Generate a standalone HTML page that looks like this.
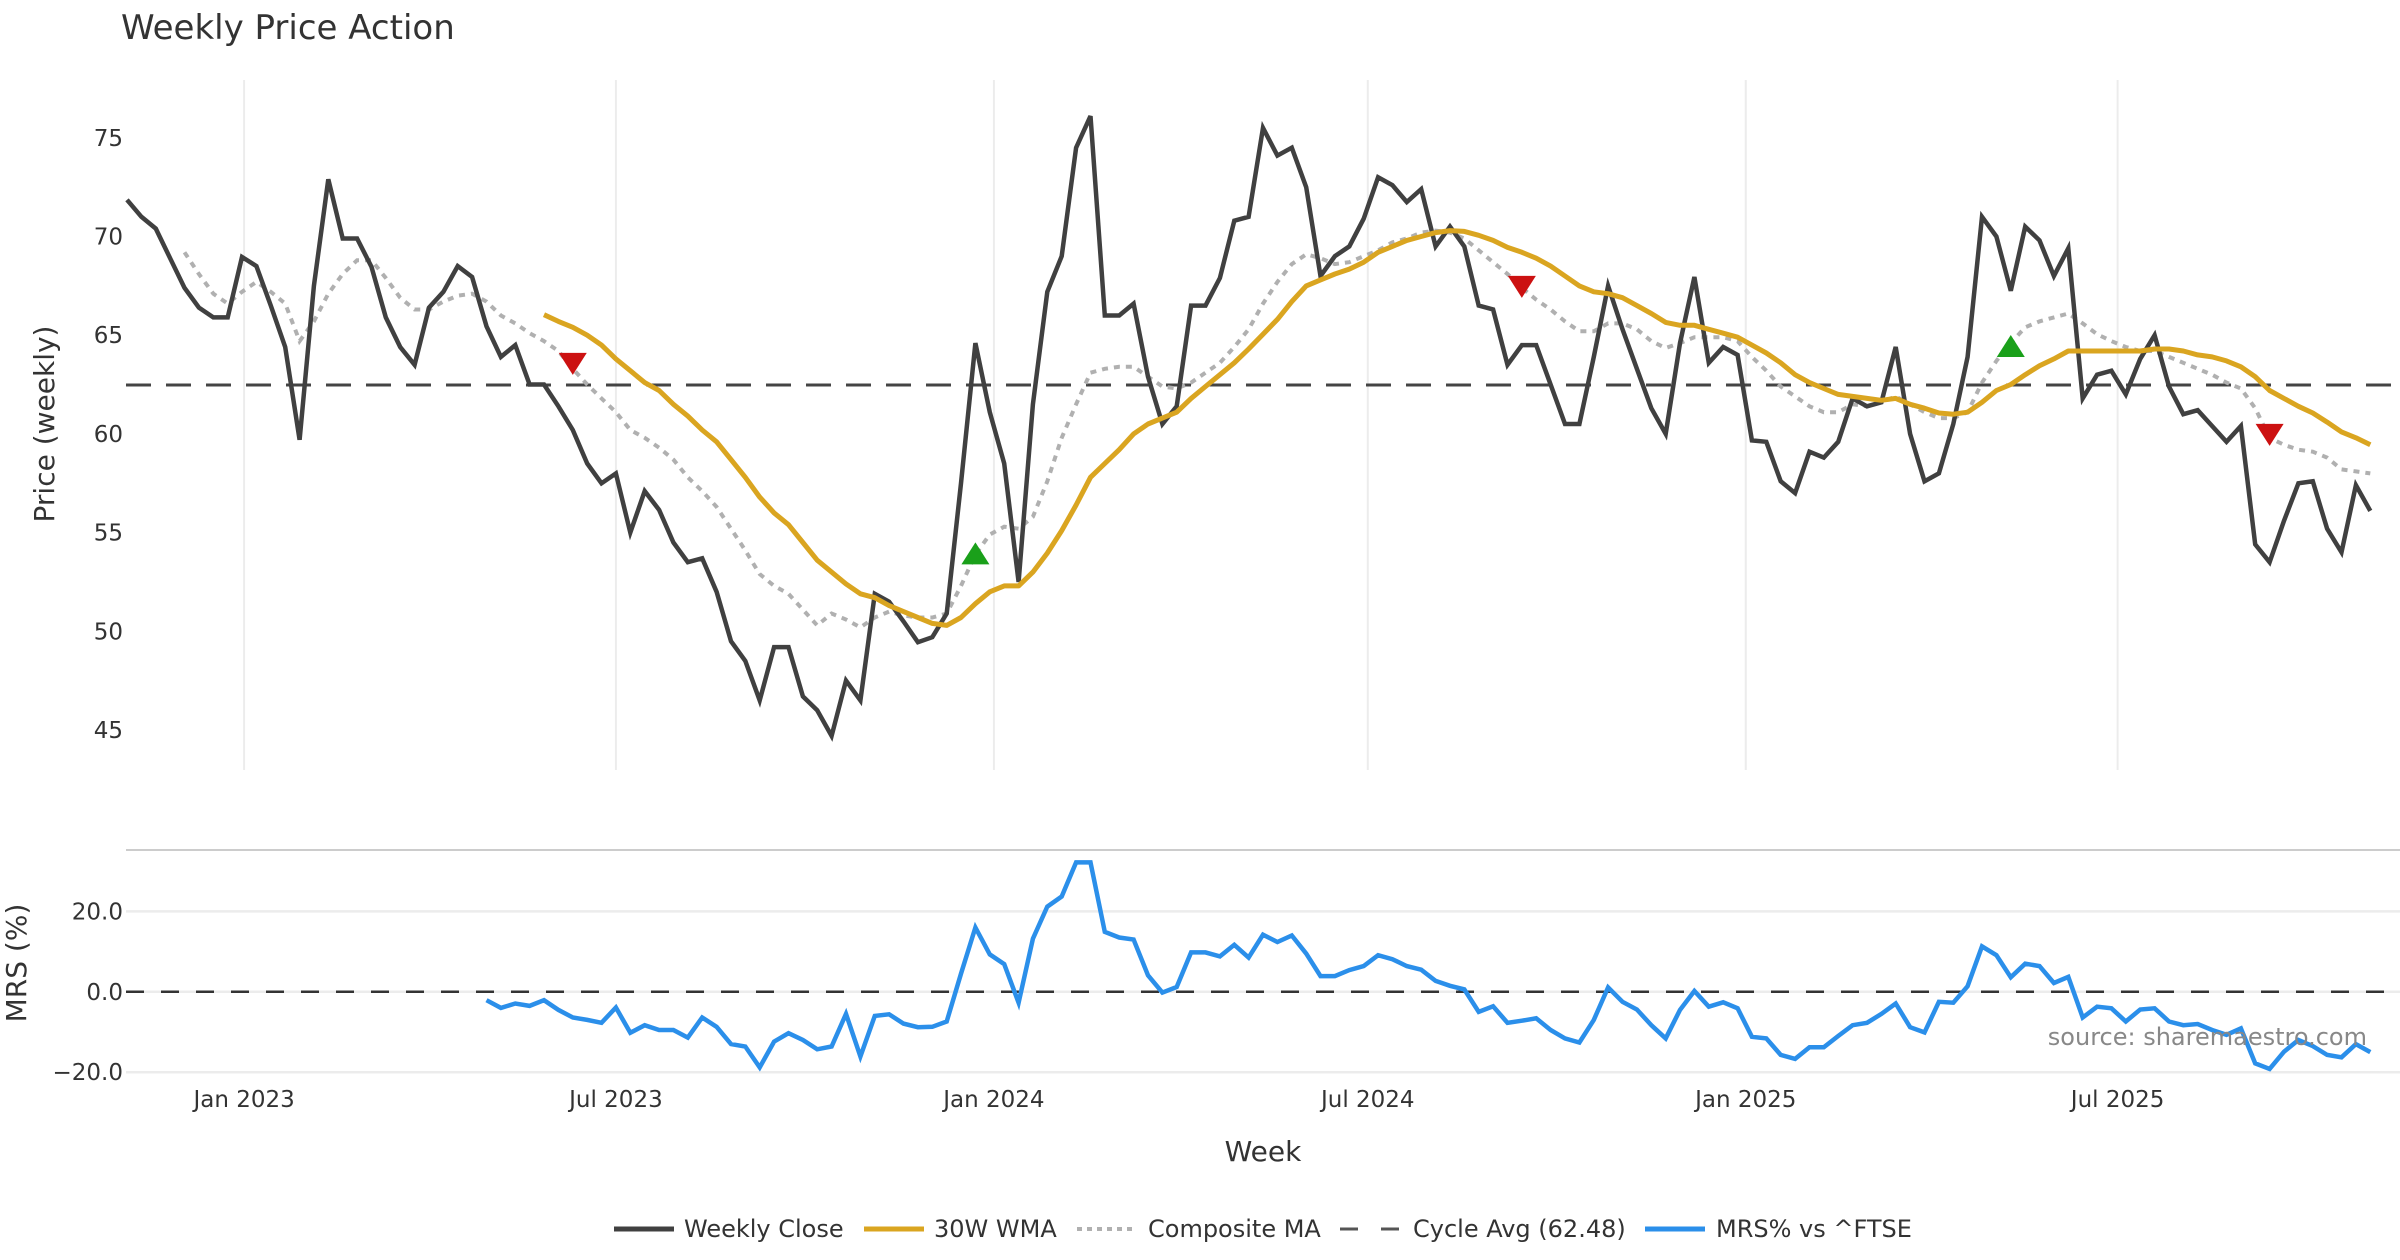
<!DOCTYPE html>
<html><head><meta charset="utf-8"><title>Weekly Price Action</title>
<style>
html,body{margin:0;padding:0;background:#fff;}
svg{display:block;font-family:"DejaVu Sans","Liberation Sans",sans-serif;}
</style></head>
<body>
<svg id="chart" width="2400" height="1260" viewBox="0 0 2400 1260" xmlns="http://www.w3.org/2000/svg">
<rect width="2400" height="1260" fill="#fff"/>
<text x="121" y="39" font-size="34" fill="#333">Weekly Price Action</text>
<g id="grid"></g>
<g id="series"></g>
<g id="axes"></g>
</svg>
<script>
const startDate = "2022-11-05";
const closeVals = [71.86,71.0,70.4,68.9,67.4,66.4,65.9,65.9,68.96,68.5,66.5,64.4,59.7,67.5,72.9,69.9,69.9,68.46,65.9,64.4,63.5,66.4,67.2,68.5,67.95,65.45,63.9,64.5,62.5,62.5,61.4,60.2,58.5,57.5,58.0,55.0,57.1,56.15,54.5,53.5,53.7,52.0,49.5,48.5,46.5,49.2,49.2,46.7,46.0,44.7,47.5,46.5,51.9,51.5,50.5,49.45,49.7,50.9,57.5,64.6,61.1,58.5,52.5,61.5,67.2,69.0,74.5,76.1,66.0,66.0,66.6,62.9,60.5,61.4,66.5,66.5,67.9,70.8,71.0,75.5,74.1,74.5,72.5,68.0,69.0,69.5,70.9,73.0,72.6,71.75,72.4,69.5,70.5,69.5,66.5,66.3,63.5,64.5,64.5,62.5,60.5,60.5,63.9,67.5,65.3,63.3,61.3,60.0,64.6,67.95,63.6,64.4,64.0,59.67,59.6,57.6,57.0,59.1,58.8,59.6,61.8,61.4,61.6,64.4,60.0,57.6,58.0,60.5,63.9,71.0,70.0,67.25,70.5,69.8,68.0,69.4,61.8,63.0,63.2,62.0,63.8,65.0,62.4,61.0,61.2,60.4,59.6,60.4,54.4,53.5,55.6,57.5,57.6,55.2,54.0,57.4,56.1];
const wmaStart = 29;
const wmaVals = [66.04,65.7,65.4,65.0,64.5,63.8,63.2,62.6,62.2,61.5,60.9,60.2,59.6,58.7,57.8,56.8,56.0,55.4,54.5,53.6,53.0,52.4,51.9,51.7,51.3,51.0,50.7,50.4,50.3,50.7,51.4,52.0,52.3,52.3,53.0,53.96,55.1,56.4,57.8,58.5,59.2,60.0,60.5,60.8,61.1,61.8,62.4,63.0,63.6,64.3,65.05,65.8,66.7,67.5,67.8,68.1,68.35,68.7,69.2,69.5,69.8,70.0,70.2,70.3,70.26,70.06,69.8,69.45,69.2,68.9,68.5,68.0,67.5,67.2,67.1,66.9,66.5,66.1,65.65,65.5,65.5,65.3,65.1,64.9,64.5,64.1,63.6,63.0,62.6,62.3,62.0,61.9,61.8,61.7,61.8,61.5,61.3,61.06,61.0,61.1,61.6,62.2,62.5,63.0,63.45,63.8,64.2,64.2,64.2,64.2,64.2,64.2,64.3,64.3,64.2,64.0,63.9,63.7,63.4,62.9,62.2,61.8,61.4,61.06,60.6,60.1,59.8,59.45];
const compStart = 4;
const compVals = [69.2,68.1,67.1,66.6,67.2,67.7,67.2,66.6,64.7,65.7,67.1,68.1,68.8,68.8,67.9,66.9,66.3,66.3,66.7,67.0,67.1,66.7,66.0,65.6,65.1,64.7,64.2,63.3,62.5,61.8,61.1,60.2,59.8,59.3,58.7,57.8,57.1,56.3,55.2,54.1,52.9,52.3,51.9,51.1,50.3,50.9,50.6,50.2,50.7,51.0,50.8,50.7,50.7,50.9,52.3,53.9,54.9,55.3,55.2,55.8,57.6,59.8,61.5,63.1,63.3,63.4,63.4,62.9,62.4,62.3,62.6,63.1,63.6,64.4,65.3,66.6,67.7,68.6,69.1,68.9,68.6,68.7,69.0,69.3,69.7,69.9,70.2,70.3,70.2,69.9,69.3,68.7,68.1,67.4,66.8,66.3,65.7,65.2,65.2,65.6,65.6,65.3,64.7,64.35,64.6,64.9,64.9,64.9,64.7,63.9,63.2,62.4,61.9,61.4,61.1,61.1,61.5,61.4,61.6,61.9,61.5,61.1,60.8,60.8,61.1,62.6,63.7,64.6,65.4,65.7,65.9,66.1,65.6,65.05,64.7,64.4,64.2,64.2,63.9,63.6,63.3,63.0,62.6,62.3,61.3,59.8,59.45,59.2,59.1,58.8,58.2,58.1,58.0];
const mrsStart = 25;
const mrsVals = [-2.1,-4.0,-2.9,-3.5,-2.1,-4.5,-6.4,-7.0,-7.7,-3.9,-10.2,-8.3,-9.5,-9.5,-11.4,-6.4,-8.7,-13.0,-13.6,-18.8,-12.4,-10.3,-12.0,-14.3,-13.6,-5.5,-16.1,-6.0,-5.6,-7.9,-8.8,-8.7,-7.4,4.5,16.0,9.3,6.9,-2.7,13.2,21.2,23.7,32.2,32.2,14.9,13.5,13.0,4.1,-0.2,1.2,9.8,9.8,8.8,11.7,8.5,14.2,12.4,14.0,9.5,3.9,3.9,5.4,6.4,9.1,8.1,6.4,5.5,2.7,1.5,0.6,-5.0,-3.6,-7.7,-7.2,-6.6,-9.5,-11.6,-12.6,-7.0,1.1,-2.5,-4.4,-8.3,-11.6,-4.5,0.2,-3.7,-2.6,-4.1,-11.2,-11.6,-15.7,-16.7,-13.8,-13.8,-11.0,-8.3,-7.7,-5.5,-2.9,-8.8,-10.1,-2.5,-2.7,1.4,11.3,9.1,3.6,7.0,6.4,2.2,3.7,-6.4,-3.7,-4.1,-7.4,-4.4,-4.1,-7.4,-8.3,-8.0,-9.5,-10.7,-9.1,-17.8,-19.2,-14.9,-12.0,-13.5,-15.7,-16.3,-13.0,-15.0];
const cycleAvg = 62.48;
const buyIdx = [59, 131];
const buyVals = [53.9, 64.4];
const sellIdx = [31, 97, 149];
const sellVals = [63.6, 67.5, 60.0];
const priceTicks = [45, 50, 55, 60, 65, 70, 75];
const mrsTicks = [20, 0, -20];
const dateTicks = ["2023-01-01","2023-07-01","2024-01-01","2024-07-01","2025-01-01","2025-07-01"];
const dateLabels = ["Jan 2023","Jul 2023","Jan 2024","Jul 2024","Jan 2025","Jul 2025"];

const NS = "http://www.w3.org/2000/svg";
const X0 = 127, WK = 14.38;
function xIdx(i){ return X0 + WK * i; }
function xDate(d){ return xIdx((new Date(d) - new Date(startDate)) / (7*86400000)); }
function yP(v){ return 137.8 + (75 - v) * 19.74; }
function yM(v){ return 991.8 - v * 4.02; }
function mk(tag, attrs, parent){ const e=document.createElementNS(NS,tag); for(const k in attrs) e.setAttribute(k,attrs[k]); parent.appendChild(e); return e; }
const grid=document.getElementById('grid'), ser=document.getElementById('series'), axes=document.getElementById('axes');

dateTicks.forEach((d,k)=>{
  const x=xDate(d);
  const g=mk('line',{x1:x,x2:x,y1:80,y2:770,stroke:'#ececec','stroke-width':2},grid);
  
  
  const t=mk('text',{x:x,y:1107,'text-anchor':'middle','font-size':23,fill:'#333'},axes);
  t.textContent=dateLabels[k];
  
  
});
priceTicks.forEach(v=>{
  const t=mk('text',{x:123,y:yP(v)+8,'text-anchor':'end','font-size':23,fill:'#333'},axes);
  t.textContent=String(v);
  
  
});
const sep=mk('line',{x1:126,x2:2400,y1:850,y2:850,stroke:'#ccc','stroke-width':2},grid);


mrsTicks.forEach(v=>{
  const g=mk('line',{x1:126,x2:2400,y1:yM(v),y2:yM(v),stroke:'#ececec','stroke-width':2.5},grid);
  
  
  const t=mk('text',{x:123,y:yM(v)+8,'text-anchor':'end','font-size':23,fill:'#333'},axes);
  t.textContent=(v<0?'\u2212':'')+Math.abs(v).toFixed(1);
  
  
});
const zl=mk('line',{x1:126,x2:2400,y1:yM(0),y2:yM(0),stroke:'#333','stroke-width':2.5,'stroke-dasharray':'18 17'},ser);



const ca=mk('line',{x1:126,x2:2400,y1:yP(cycleAvg),y2:yP(cycleAvg),stroke:'#444','stroke-width':3,'stroke-dasharray':'25 15'},ser);



function pts(vals,start,yf){ return vals.map((v,k)=>xIdx(start+k).toFixed(1)+','+yf(v).toFixed(1)).join(' '); }
const comp=mk('polyline',{points:pts(compVals,compStart,yP),fill:'none',stroke:'#b0b0b0','stroke-width':4,'stroke-dasharray':'6 6'},ser);


const cl=mk('polyline',{points:pts(closeVals,0,yP),fill:'none',stroke:'#404040','stroke-width':4.5,'stroke-linejoin':'miter'},ser);


const wm=mk('polyline',{points:pts(wmaVals,wmaStart,yP),fill:'none',stroke:'#DAA520','stroke-width':5,'stroke-linejoin':'round'},ser);


const mr=mk('polyline',{points:pts(mrsVals,mrsStart,yM),fill:'none',stroke:'#2B8FEA','stroke-width':4.5},ser);



buyIdx.forEach((i,k)=>{
  const x=xIdx(i), y=yP(buyVals[k]);
  const p=mk('polygon',{points:`${x-14},${y+10} ${x+14},${y+10} ${x},${y-12}`,fill:'#1aa01a'},ser);
  
  
});
sellIdx.forEach((i,k)=>{
  const x=xIdx(i), y=yP(sellVals[k]);
  const p=mk('polygon',{points:`${x-14},${y-10} ${x+14},${y-10} ${x},${y+12}`,fill:'#cc1111'},ser);
  
  
});
</script>
<svg style="position:absolute;left:0;top:0" width="2400" height="1260">
<text transform="translate(54,424) rotate(-90)" text-anchor="middle" font-size="28" fill="#333" font-family="DejaVu Sans, sans-serif">Price (weekly)</text>
<text transform="translate(26,963) rotate(-90)" text-anchor="middle" font-size="28" fill="#333" font-family="DejaVu Sans, sans-serif">MRS (%)</text>
<text x="1263" y="1161" text-anchor="middle" font-size="28" fill="#333" font-family="DejaVu Sans, sans-serif">Week</text>
<text x="2367" y="1045" text-anchor="end" font-size="24" fill="#888" font-family="DejaVu Sans, sans-serif">source: sharemaestro.com</text>
<g font-family="DejaVu Sans, sans-serif" font-size="24" fill="#333">
<g><line x1="614" x2="674" y1="1229" y2="1229" stroke="#404040" stroke-width="5"/><text x="684" y="1237">Weekly Close</text></g>
<g><line x1="864" x2="924" y1="1229" y2="1229" stroke="#DAA520" stroke-width="5"/><text x="934" y="1237">30W WMA</text></g>
<g><line x1="1077" x2="1135" y1="1229" y2="1229" stroke="#b0b0b0" stroke-width="4" stroke-dasharray="5 5"/><text x="1148" y="1237">Composite MA</text></g>
<g><line x1="1340" x2="1400" y1="1229" y2="1229" stroke="#555" stroke-width="3" stroke-dasharray="18 23"/><text x="1413" y="1237">Cycle Avg (62.48)</text></g>
<g><line x1="1645" x2="1705" y1="1229" y2="1229" stroke="#2B8FEA" stroke-width="5"/><text x="1716" y="1237">MRS% vs ^FTSE</text></g>
</g>
</svg>
</body></html>
